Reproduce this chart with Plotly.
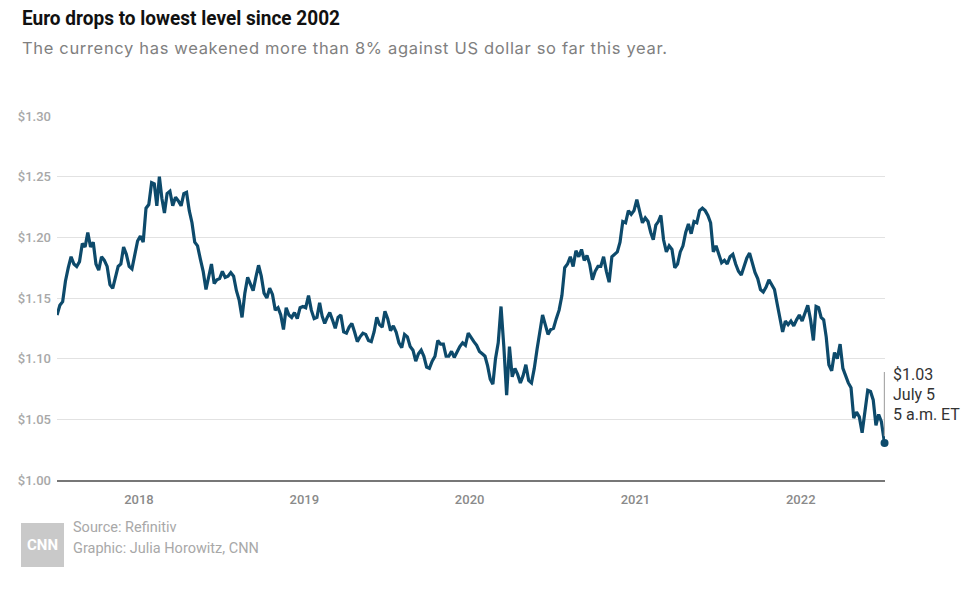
import plotly.graph_objects as go
import pandas as pd

# ---- Data (EUR/USD; 5 readings per month) ----
rates_2017 = [  # Jul-Dec 2017
    1.136, 1.144, 1.147, 1.164, 1.175,
    1.184, 1.178, 1.176, 1.180, 1.195,
    1.192, 1.204, 1.192, 1.196, 1.178,
    1.173, 1.184, 1.181, 1.176, 1.161,
    1.158, 1.166, 1.176, 1.178, 1.192,
    1.186, 1.176, 1.174, 1.186, 1.197,
]
rates_2018 = [
    1.201, 1.196, 1.224, 1.227, 1.245,
    1.244, 1.226, 1.250, 1.232, 1.220,
    1.236, 1.238, 1.226, 1.233, 1.230,
    1.226, 1.236, 1.237, 1.222, 1.212,
    1.196, 1.193, 1.182, 1.172, 1.157,
    1.168, 1.178, 1.162, 1.165, 1.166,
    1.172, 1.167, 1.168, 1.171, 1.168,
    1.156, 1.148, 1.134, 1.154, 1.167,
    1.161, 1.156, 1.167, 1.177, 1.168,
    1.154, 1.150, 1.158, 1.153, 1.140,
    1.142, 1.136, 1.124, 1.142, 1.136,
    1.134, 1.138, 1.133, 1.142, 1.143,
]
rates_2019 = [
    1.142, 1.152, 1.140, 1.133, 1.134,
    1.146, 1.135, 1.129, 1.134, 1.138,
    1.132, 1.125, 1.134, 1.136, 1.122,
    1.121, 1.126, 1.129, 1.122, 1.114,
    1.118, 1.121, 1.120, 1.115, 1.114,
    1.122, 1.134, 1.128, 1.126, 1.139,
    1.133, 1.123, 1.127, 1.122, 1.113,
    1.109, 1.120, 1.118, 1.110, 1.107,
    1.098, 1.104, 1.107, 1.102, 1.093,
    1.092, 1.098, 1.102, 1.115, 1.112,
    1.112, 1.102, 1.102, 1.106, 1.101,
    1.106, 1.110, 1.113, 1.111, 1.121,
]
rates_2020 = [
    1.117, 1.114, 1.111, 1.106, 1.104,
    1.102, 1.094, 1.083, 1.079, 1.100,
    1.113, 1.143, 1.110, 1.070, 1.110,
    1.085, 1.092, 1.087, 1.080, 1.086,
    1.095, 1.082, 1.080, 1.092, 1.108,
    1.123, 1.136, 1.128, 1.120, 1.124,
    1.125, 1.133, 1.140, 1.152, 1.175,
    1.178, 1.184, 1.176, 1.189, 1.184,
    1.190, 1.181, 1.185, 1.178, 1.165,
    1.172, 1.176, 1.176, 1.184, 1.172,
    1.163, 1.184, 1.186, 1.188, 1.196,
    1.213, 1.212, 1.222, 1.219, 1.222,
]
rates_2021 = [
    1.231, 1.222, 1.212, 1.216, 1.213,
    1.204, 1.198, 1.210, 1.213, 1.218,
    1.198, 1.188, 1.193, 1.190, 1.175,
    1.178, 1.188, 1.193, 1.204, 1.211,
    1.203, 1.213, 1.212, 1.222, 1.224,
    1.222, 1.218, 1.212, 1.188, 1.193,
    1.186, 1.179, 1.181, 1.178, 1.184,
    1.186, 1.178, 1.172, 1.169, 1.176,
    1.183, 1.187, 1.178, 1.171, 1.166,
    1.157, 1.155, 1.159, 1.165, 1.161,
    1.157, 1.145, 1.134, 1.122, 1.131,
    1.128, 1.131, 1.127, 1.132, 1.136,
]
rates_2022 = [  # Jan-Jun 2022
    1.131, 1.138, 1.144, 1.132, 1.115,
    1.143, 1.142, 1.134, 1.132, 1.118,
    1.095, 1.090, 1.105, 1.100, 1.112,
    1.092, 1.086, 1.080, 1.076, 1.051,
    1.056, 1.052, 1.039, 1.058, 1.074,
    1.073, 1.066, 1.045, 1.054, 1.048,
]
last_date = "2022-07-05"
last_rate = 1.0304

y_ticks = [1.00, 1.05, 1.10, 1.15, 1.20, 1.25, 1.30]
y_labels = ["$1.00", "$1.05", "$1.10", "$1.15", "$1.20", "$1.25", "$1.30"]
x_ticks = ["2018-01-01", "2019-01-01", "2020-01-01", "2021-01-01", "2022-01-01"]
x_labels = ["2018", "2019", "2020", "2021", "2022"]

title = "Euro drops to lowest level since 2002"
subtitle = "The currency has weakened more than 8% against US dollar so far this year."
source_lines = ["Source: Refinitiv", "Graphic: Julia Horowitz, CNN"]
end_label = ["$1.03", "July 5", "5 a.m. ET"]


def month_dates(year, first_month, n_months, per_month=5):
    out = []
    for m in range(first_month, first_month + n_months):
        start = pd.Timestamp(year, m, 1)
        nd = start.days_in_month
        for k in range(per_month):
            out.append(start + pd.Timedelta(days=(k + 0.5) * nd / per_month))
    return out


dates = (month_dates(2017, 7, 6) + month_dates(2018, 1, 12) + month_dates(2019, 1, 12)
         + month_dates(2020, 1, 12) + month_dates(2021, 1, 12) + month_dates(2022, 1, 6))
rates = rates_2017 + rates_2018 + rates_2019 + rates_2020 + rates_2021 + rates_2022
dates = dates[:len(rates)] + [pd.Timestamp(last_date)]
rates = rates[:len(dates) - 1] + [last_rate]

LINE = "#0d4a6b"
SANS = "Roboto, Liberation Sans, sans-serif"
WIDE = "Inter, Open Sans, sans-serif"

W, H = 980, 603
ML, MR, MT, MB = 57, 95, 116, 123
PW, PH = W - ML - MR, H - MT - MB


def px(x):
    return (x - ML) / PW


def py(y):
    return (H - MB - y) / PH


fig = go.Figure()
fig.add_trace(go.Scatter(x=dates, y=rates, mode="lines",
                         line=dict(color=LINE, width=3.2), hoverinfo="skip"))
fig.add_trace(go.Scatter(x=[dates[-1]], y=[rates[-1]], mode="markers",
                         marker=dict(color=LINE, size=8), cliponaxis=False,
                         hoverinfo="skip"))

annotations = [
    dict(text=title, x=px(20), y=py(18), xref="paper", yref="paper",
         xanchor="left", yanchor="middle", align="left", showarrow=False,
         font=dict(family=SANS, size=21, color="#111111", weight=700)),
    dict(text=subtitle, x=px(20), y=py(48), xref="paper", yref="paper",
         xanchor="left", yanchor="middle", align="left", showarrow=False,
         font=dict(family=WIDE, size=16.5, color="#808080")),
    dict(text=source_lines[0], x=px(71), y=py(527), xref="paper", yref="paper",
         xanchor="left", yanchor="middle", align="left", showarrow=False,
         font=dict(family=SANS, size=14.5, color="#a8a8a8")),
    dict(text=source_lines[1], x=px(71), y=py(548), xref="paper", yref="paper",
         xanchor="left", yanchor="middle", align="left", showarrow=False,
         font=dict(family=SANS, size=14.5, color="#a8a8a8")),
    dict(text="CNN", x=px(42.5), y=py(545), xref="paper", yref="paper",
         xanchor="center", yanchor="middle", showarrow=False,
         font=dict(family=SANS, size=15, color="#ffffff", weight=700)),
]
for i, t in enumerate(end_label):
    annotations.append(dict(text=t, x=px(891), y=py(374 + 20 * i), xref="paper", yref="paper",
                            xanchor="left", yanchor="middle", align="left", showarrow=False,
                            font=dict(family=SANS, size=16, color="#333333")))

shapes = [
    dict(type="rect", xref="paper", yref="paper", x0=px(21), x1=px(64), y0=py(567), y1=py(523),
         fillcolor="#c9c9c9", line=dict(width=0), layer="above"),
    dict(type="line", xref="x", yref="y", x0=last_date, x1=last_date, y0=1.036, y1=1.089,
         line=dict(color="#aaaaaa", width=1.5)),
]

fig.update_layout(
    width=W, height=H,
    margin=dict(l=ML, r=MR, t=MT, b=MB, pad=0),
    paper_bgcolor="white", plot_bgcolor="white",
    showlegend=False,
    annotations=annotations,
    shapes=shapes,
    xaxis=dict(range=["2017-07-04", "2022-07-06"], tickvals=x_ticks, ticktext=x_labels,
               showgrid=False, showline=True, linecolor="#777777", linewidth=2,
               ticks="", ticklabelstandoff=6, zeroline=False,
               tickfont=dict(family=SANS, size=13, color="#8a8a8a", weight=500)),
    yaxis=dict(range=[1.0, 1.30], tickvals=y_ticks, ticktext=y_labels,
               showgrid=True, gridcolor="#e2e2e2", gridwidth=1, zeroline=False,
               showline=False, ticks="", ticklabelstandoff=5,
               tickfont=dict(family=SANS, size=13, color="#a8a8a8", weight=500)),
)

post = """
document.body.style.margin = '0';
var gd = document.getElementById('{plot_id}');
gd.querySelectorAll('.annotation-text').forEach(function (t) {
  if (t.textContent.indexOf('Euro drops') === 0) {
    t.setAttribute('textLength', '318');
    t.setAttribute('lengthAdjust', 'spacingAndGlyphs');
  }
  if (t.textContent.indexOf('The currency') === 0) {
    t.setAttribute('textLength', '645');
    t.setAttribute('lengthAdjust', 'spacing');
  }
});
"""

fig.write_html("out.html", post_script=post, config={"displayModeBar": False})
